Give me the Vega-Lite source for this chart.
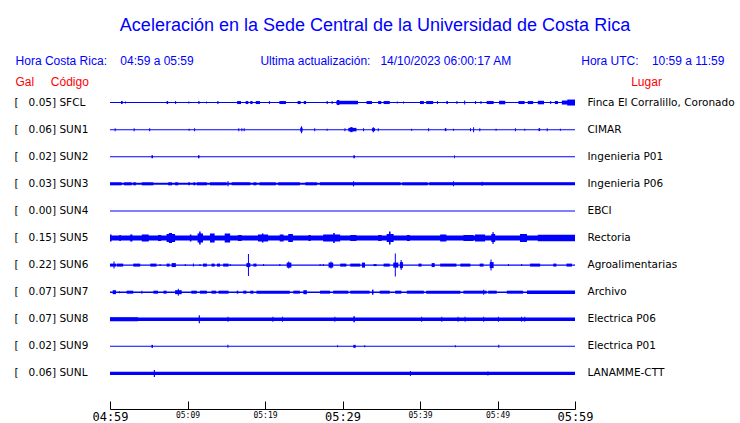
{
  "$schema": "https://vega.github.io/schema/vega-lite/v6.json",
  "autosize": {"type": "none"},
  "padding": {"left": 110, "top": 89, "right": 165, "bottom": 36},
  "width": 465,
  "height": 298,
  "background": "white",
  "config": {"view": {"stroke": null}},
  "title": {
    "text": "Aceleración en la Sede Central de la Universidad de Costa Rica",
    "subtitle": "Hora Costa Rica:\u00a0\u00a0\u00a0\u00a004:59 a 05:59\u00a0\u00a0\u00a0\u00a0\u00a0\u00a0\u00a0\u00a0\u00a0\u00a0\u00a0\u00a0\u00a0\u00a0\u00a0\u00a0\u00a0\u00a0\u00a0\u00a0Ultima actualización:\u00a0\u00a0\u00a014/10/2023 06:00:17 AM\u00a0\u00a0\u00a0\u00a0\u00a0\u00a0\u00a0\u00a0\u00a0\u00a0\u00a0\u00a0\u00a0\u00a0\u00a0\u00a0\u00a0\u00a0\u00a0\u00a0\u00a0Hora UTC:\u00a0\u00a0\u00a0\u00a010:59 a 11:59\u00a0\u00a0\u00a0\u200b",
    "anchor": "middle",
    "frame": "group",
    "dx": 32.5,
    "font": "Liberation Sans",
    "fontSize": 18,
    "fontWeight": "normal",
    "color": "#0000ff",
    "subtitleFont": "Liberation Sans",
    "subtitleFontSize": 12,
    "subtitleColor": "#0000ff",
    "subtitlePadding": 21,
    "offset": 8
  },
  "datasets": {
    "base": [
      {"st": "SFCL", "t0": 0, "t1": 60, "amp": 1},
      {"st": "SUN1", "t0": 0, "t1": 60, "amp": 1},
      {"st": "SUN2", "t0": 0, "t1": 60, "amp": 1},
      {"st": "SUN3", "t0": 0, "t1": 60, "amp": 2},
      {"st": "SUN4", "t0": 0, "t1": 60, "amp": 1},
      {"st": "SUN5", "t0": 0, "t1": 60, "amp": 5},
      {"st": "SUN6", "t0": 0, "t1": 60, "amp": 1.2},
      {"st": "SUN7", "t0": 0, "t1": 60, "amp": 1.5},
      {"st": "SUN8", "t0": 0, "t1": 60, "amp": 3.5},
      {"st": "SUN9", "t0": 0, "t1": 60, "amp": 1},
      {"st": "SUNL", "t0": 0, "t1": 60, "amp": 3.3}
    ],
    "bursts": [
      {"st": "SFCL", "t0": 1.42, "t1": 1.64, "amp": 3},
      {"st": "SFCL", "t0": 1.94, "t1": 2.07, "amp": 2},
      {"st": "SFCL", "t0": 7.3, "t1": 7.5, "amp": 3},
      {"st": "SFCL", "t0": 8.4, "t1": 8.53, "amp": 3},
      {"st": "SFCL", "t0": 10.1, "t1": 10.23, "amp": 2},
      {"st": "SFCL", "t0": 11.4, "t1": 11.55, "amp": 3},
      {"st": "SFCL", "t0": 12.4, "t1": 12.5, "amp": 2},
      {"st": "SFCL", "t0": 13.85, "t1": 14.0, "amp": 3},
      {"st": "SFCL", "t0": 16.4, "t1": 16.9, "amp": 3},
      {"st": "SFCL", "t0": 17.5, "t1": 17.85, "amp": 3},
      {"st": "SFCL", "t0": 18.1, "t1": 18.4, "amp": 3},
      {"st": "SFCL", "t0": 18.8, "t1": 19.35, "amp": 3},
      {"st": "SFCL", "t0": 20.5, "t1": 20.63, "amp": 3},
      {"st": "SFCL", "t0": 21.85, "t1": 22.7, "amp": 3},
      {"st": "SFCL", "t0": 24.2, "t1": 24.6, "amp": 3},
      {"st": "SFCL", "t0": 25.0, "t1": 25.3, "amp": 3},
      {"st": "SFCL", "t0": 27.95, "t1": 28.1, "amp": 3},
      {"st": "SFCL", "t0": 28.6, "t1": 28.73, "amp": 3},
      {"st": "SFCL", "t0": 29.2, "t1": 32.0, "amp": 3.5},
      {"st": "SFCL", "t0": 29.3, "t1": 29.6, "amp": 5},
      {"st": "SFCL", "t0": 33.1, "t1": 33.8, "amp": 3},
      {"st": "SFCL", "t0": 34.6, "t1": 35.0, "amp": 3},
      {"st": "SFCL", "t0": 35.3, "t1": 36.1, "amp": 3},
      {"st": "SFCL", "t0": 37.0, "t1": 37.13, "amp": 2},
      {"st": "SFCL", "t0": 37.8, "t1": 37.93, "amp": 2},
      {"st": "SFCL", "t0": 40.0, "t1": 40.5, "amp": 3},
      {"st": "SFCL", "t0": 40.8, "t1": 41.7, "amp": 3},
      {"st": "SFCL", "t0": 42.2, "t1": 42.33, "amp": 3},
      {"st": "SFCL", "t0": 43.4, "t1": 43.6, "amp": 3},
      {"st": "SFCL", "t0": 44.7, "t1": 44.83, "amp": 3},
      {"st": "SFCL", "t0": 45.7, "t1": 45.83, "amp": 4},
      {"st": "SFCL", "t0": 47.1, "t1": 47.23, "amp": 3},
      {"st": "SFCL", "t0": 47.8, "t1": 47.93, "amp": 3},
      {"st": "SFCL", "t0": 48.6, "t1": 49.5, "amp": 3},
      {"st": "SFCL", "t0": 50.2, "t1": 51.0, "amp": 3.5},
      {"st": "SFCL", "t0": 52.7, "t1": 53.5, "amp": 3},
      {"st": "SFCL", "t0": 53.9, "t1": 54.6, "amp": 3},
      {"st": "SFCL", "t0": 55.2, "t1": 56.0, "amp": 3.5},
      {"st": "SFCL", "t0": 56.8, "t1": 56.93, "amp": 3},
      {"st": "SFCL", "t0": 57.4, "t1": 57.8, "amp": 3},
      {"st": "SFCL", "t0": 58.3, "t1": 60, "amp": 4},
      {"st": "SFCL", "t0": 59.0, "t1": 60, "amp": 6},

      {"st": "SUN1", "t0": 0.6, "t1": 0.73, "amp": 3},
      {"st": "SUN1", "t0": 3.05, "t1": 3.18, "amp": 3},
      {"st": "SUN1", "t0": 5.05, "t1": 5.18, "amp": 3},
      {"st": "SUN1", "t0": 10.15, "t1": 10.28, "amp": 2},
      {"st": "SUN1", "t0": 10.85, "t1": 10.98, "amp": 3},
      {"st": "SUN1", "t0": 16.55, "t1": 16.68, "amp": 3},
      {"st": "SUN1", "t0": 16.95, "t1": 17.08, "amp": 3},
      {"st": "SUN1", "t0": 17.25, "t1": 17.38, "amp": 3},
      {"st": "SUN1", "t0": 24.55, "t1": 24.85, "amp": 4},
      {"st": "SUN1", "t0": 24.65, "t1": 24.78, "amp": 7},
      {"st": "SUN1", "t0": 26.35, "t1": 26.48, "amp": 3},
      {"st": "SUN1", "t0": 27.95, "t1": 28.08, "amp": 2},
      {"st": "SUN1", "t0": 30.25, "t1": 30.38, "amp": 3},
      {"st": "SUN1", "t0": 30.75, "t1": 31.8, "amp": 3.5},
      {"st": "SUN1", "t0": 31.0, "t1": 31.3, "amp": 5},
      {"st": "SUN1", "t0": 32.65, "t1": 32.78, "amp": 3},
      {"st": "SUN1", "t0": 33.8, "t1": 34.2, "amp": 3},
      {"st": "SUN1", "t0": 33.9, "t1": 34.05, "amp": 5},
      {"st": "SUN1", "t0": 34.55, "t1": 34.68, "amp": 3},
      {"st": "SUN1", "t0": 38.85, "t1": 38.98, "amp": 2},
      {"st": "SUN1", "t0": 41.05, "t1": 41.18, "amp": 3},
      {"st": "SUN1", "t0": 43.2, "t1": 43.4, "amp": 3},
      {"st": "SUN1", "t0": 44.25, "t1": 44.38, "amp": 2},
      {"st": "SUN1", "t0": 46.45, "t1": 46.58, "amp": 3},
      {"st": "SUN1", "t0": 46.85, "t1": 46.98, "amp": 5},
      {"st": "SUN1", "t0": 47.65, "t1": 47.78, "amp": 3},
      {"st": "SUN1", "t0": 49.75, "t1": 49.88, "amp": 2},
      {"st": "SUN1", "t0": 52.25, "t1": 52.38, "amp": 3},
      {"st": "SUN1", "t0": 53.45, "t1": 53.58, "amp": 2},
      {"st": "SUN1", "t0": 55.3, "t1": 55.5, "amp": 3},
      {"st": "SUN1", "t0": 56.35, "t1": 56.48, "amp": 3},
      {"st": "SUN1", "t0": 58.05, "t1": 58.18, "amp": 2},

      {"st": "SUN2", "t0": 5.35, "t1": 5.55, "amp": 3},
      {"st": "SUN2", "t0": 11.35, "t1": 11.55, "amp": 3},
      {"st": "SUN2", "t0": 31.4, "t1": 31.6, "amp": 3},
      {"st": "SUN2", "t0": 44.4, "t1": 44.5, "amp": 3},

      {"st": "SUN3", "t0": 0.0, "t1": 1.5, "amp": 3},
      {"st": "SUN3", "t0": 1.8, "t1": 2.8, "amp": 3},
      {"st": "SUN3", "t0": 3.0, "t1": 3.35, "amp": 3},
      {"st": "SUN3", "t0": 4.1, "t1": 5.6, "amp": 3},
      {"st": "SUN3", "t0": 7.5, "t1": 8.0, "amp": 3},
      {"st": "SUN3", "t0": 8.4, "t1": 8.8, "amp": 3},
      {"st": "SUN3", "t0": 10.1, "t1": 10.3, "amp": 3},
      {"st": "SUN3", "t0": 10.75, "t1": 11.0, "amp": 3},
      {"st": "SUN3", "t0": 11.2, "t1": 12.5, "amp": 3},
      {"st": "SUN3", "t0": 12.9, "t1": 15.05, "amp": 3},
      {"st": "SUN3", "t0": 15.15, "t1": 15.3, "amp": 5},
      {"st": "SUN3", "t0": 15.7, "t1": 18.1, "amp": 3},
      {"st": "SUN3", "t0": 18.5, "t1": 18.9, "amp": 3},
      {"st": "SUN3", "t0": 19.3, "t1": 21.4, "amp": 3},
      {"st": "SUN3", "t0": 21.7, "t1": 24.5, "amp": 3},
      {"st": "SUN3", "t0": 25.2, "t1": 26.7, "amp": 3},
      {"st": "SUN3", "t0": 27.1, "t1": 37.5, "amp": 3},
      {"st": "SUN3", "t0": 31.35, "t1": 31.5, "amp": 5},
      {"st": "SUN3", "t0": 37.7, "t1": 41.0, "amp": 3},
      {"st": "SUN3", "t0": 41.2, "t1": 60, "amp": 3},
      {"st": "SUN3", "t0": 44.25, "t1": 44.38, "amp": 5},
      {"st": "SUN3", "t0": 47.95, "t1": 48.08, "amp": 4},

      {"st": "SUN5", "t0": 0.0, "t1": 0.2, "amp": 7},
      {"st": "SUN5", "t0": 1.2, "t1": 1.4, "amp": 6},
      {"st": "SUN5", "t0": 2.6, "t1": 2.9, "amp": 7},
      {"st": "SUN5", "t0": 4.1, "t1": 5.0, "amp": 7},
      {"st": "SUN5", "t0": 6.2, "t1": 6.6, "amp": 6},
      {"st": "SUN5", "t0": 7.3, "t1": 8.4, "amp": 8},
      {"st": "SUN5", "t0": 7.6, "t1": 8.0, "amp": 10},
      {"st": "SUN5", "t0": 10.3, "t1": 10.5, "amp": 7},
      {"st": "SUN5", "t0": 11.3, "t1": 12.0, "amp": 9},
      {"st": "SUN5", "t0": 11.5, "t1": 11.7, "amp": 13},
      {"st": "SUN5", "t0": 12.9, "t1": 13.5, "amp": 9},
      {"st": "SUN5", "t0": 14.8, "t1": 15.5, "amp": 9},
      {"st": "SUN5", "t0": 16.5, "t1": 17.0, "amp": 6},
      {"st": "SUN5", "t0": 19.1, "t1": 20.4, "amp": 7},
      {"st": "SUN5", "t0": 19.6, "t1": 19.8, "amp": 9},
      {"st": "SUN5", "t0": 21.9, "t1": 22.4, "amp": 7},
      {"st": "SUN5", "t0": 23.0, "t1": 23.6, "amp": 8},
      {"st": "SUN5", "t0": 25.6, "t1": 25.9, "amp": 6},
      {"st": "SUN5", "t0": 27.5, "t1": 29.7, "amp": 7},
      {"st": "SUN5", "t0": 28.8, "t1": 29.0, "amp": 10},
      {"st": "SUN5", "t0": 31.0, "t1": 31.8, "amp": 6},
      {"st": "SUN5", "t0": 34.6, "t1": 35.05, "amp": 6},
      {"st": "SUN5", "t0": 35.7, "t1": 36.6, "amp": 8},
      {"st": "SUN5", "t0": 36.0, "t1": 36.2, "amp": 13},
      {"st": "SUN5", "t0": 38.3, "t1": 38.7, "amp": 6},
      {"st": "SUN5", "t0": 42.6, "t1": 43.4, "amp": 7},
      {"st": "SUN5", "t0": 45.6, "t1": 46.9, "amp": 6},
      {"st": "SUN5", "t0": 47.1, "t1": 48.4, "amp": 7},
      {"st": "SUN5", "t0": 49.2, "t1": 49.7, "amp": 8},
      {"st": "SUN5", "t0": 49.35, "t1": 49.5, "amp": 12},
      {"st": "SUN5", "t0": 52.9, "t1": 53.8, "amp": 8},
      {"st": "SUN5", "t0": 55.2, "t1": 60, "amp": 6.5},

      {"st": "SUN6", "t0": 0.0, "t1": 0.77, "amp": 3},
      {"st": "SUN6", "t0": 0.45, "t1": 0.58, "amp": 7},
      {"st": "SUN6", "t0": 0.86, "t1": 1.7, "amp": 3},
      {"st": "SUN6", "t0": 3.0, "t1": 3.9, "amp": 3},
      {"st": "SUN6", "t0": 5.2, "t1": 6.0, "amp": 3},
      {"st": "SUN6", "t0": 6.4, "t1": 6.53, "amp": 2},
      {"st": "SUN6", "t0": 7.3, "t1": 7.7, "amp": 3},
      {"st": "SUN6", "t0": 7.95, "t1": 8.5, "amp": 4},
      {"st": "SUN6", "t0": 9.65, "t1": 9.78, "amp": 2},
      {"st": "SUN6", "t0": 10.7, "t1": 10.83, "amp": 3},
      {"st": "SUN6", "t0": 11.55, "t1": 11.68, "amp": 2},
      {"st": "SUN6", "t0": 12.0, "t1": 12.5, "amp": 3},
      {"st": "SUN6", "t0": 13.1, "t1": 13.5, "amp": 3},
      {"st": "SUN6", "t0": 13.8, "t1": 14.2, "amp": 3},
      {"st": "SUN6", "t0": 14.6, "t1": 15.3, "amp": 3},
      {"st": "SUN6", "t0": 15.45, "t1": 15.58, "amp": 2},
      {"st": "SUN6", "t0": 17.6, "t1": 18.1, "amp": 4},
      {"st": "SUN6", "t0": 17.8, "t1": 17.93, "amp": 22},
      {"st": "SUN6", "t0": 18.5, "t1": 18.9, "amp": 3},
      {"st": "SUN6", "t0": 19.75, "t1": 19.88, "amp": 2},
      {"st": "SUN6", "t0": 21.85, "t1": 21.98, "amp": 2},
      {"st": "SUN6", "t0": 22.8, "t1": 23.4, "amp": 5},
      {"st": "SUN6", "t0": 23.0, "t1": 23.13, "amp": 7},
      {"st": "SUN6", "t0": 27.05, "t1": 27.18, "amp": 2},
      {"st": "SUN6", "t0": 27.45, "t1": 27.58, "amp": 2},
      {"st": "SUN6", "t0": 28.2, "t1": 28.8, "amp": 5},
      {"st": "SUN6", "t0": 28.45, "t1": 28.58, "amp": 7},
      {"st": "SUN6", "t0": 29.7, "t1": 30.5, "amp": 3},
      {"st": "SUN6", "t0": 31.0, "t1": 32.3, "amp": 3},
      {"st": "SUN6", "t0": 32.5, "t1": 32.9, "amp": 5},
      {"st": "SUN6", "t0": 34.0, "t1": 34.4, "amp": 2},
      {"st": "SUN6", "t0": 35.3, "t1": 36.1, "amp": 3},
      {"st": "SUN6", "t0": 36.55, "t1": 37.2, "amp": 5},
      {"st": "SUN6", "t0": 36.75, "t1": 36.88, "amp": 23},
      {"st": "SUN6", "t0": 37.4, "t1": 37.8, "amp": 6},
      {"st": "SUN6", "t0": 37.5, "t1": 37.63, "amp": 10},
      {"st": "SUN6", "t0": 39.8, "t1": 40.2, "amp": 3},
      {"st": "SUN6", "t0": 41.5, "t1": 41.9, "amp": 4},
      {"st": "SUN6", "t0": 42.6, "t1": 44.7, "amp": 3},
      {"st": "SUN6", "t0": 45.2, "t1": 46.5, "amp": 3},
      {"st": "SUN6", "t0": 47.7, "t1": 48.2, "amp": 3},
      {"st": "SUN6", "t0": 49.0, "t1": 49.5, "amp": 6},
      {"st": "SUN6", "t0": 49.1, "t1": 49.23, "amp": 11},
      {"st": "SUN6", "t0": 51.35, "t1": 51.48, "amp": 2},
      {"st": "SUN6", "t0": 53.05, "t1": 53.18, "amp": 2},
      {"st": "SUN6", "t0": 54.2, "t1": 55.5, "amp": 3},
      {"st": "SUN6", "t0": 57.2, "t1": 57.6, "amp": 3},
      {"st": "SUN6", "t0": 58.9, "t1": 59.6, "amp": 3},

      {"st": "SUN7", "t0": 0.35, "t1": 0.77, "amp": 4},
      {"st": "SUN7", "t0": 1.15, "t1": 1.28, "amp": 2},
      {"st": "SUN7", "t0": 2.15, "t1": 3.0, "amp": 3},
      {"st": "SUN7", "t0": 4.05, "t1": 4.18, "amp": 3},
      {"st": "SUN7", "t0": 5.6, "t1": 6.2, "amp": 3},
      {"st": "SUN7", "t0": 6.9, "t1": 7.3, "amp": 3},
      {"st": "SUN7", "t0": 8.4, "t1": 9.25, "amp": 4},
      {"st": "SUN7", "t0": 8.75, "t1": 8.88, "amp": 7},
      {"st": "SUN7", "t0": 10.5, "t1": 11.2, "amp": 3},
      {"st": "SUN7", "t0": 11.6, "t1": 12.5, "amp": 3},
      {"st": "SUN7", "t0": 13.1, "t1": 13.7, "amp": 3},
      {"st": "SUN7", "t0": 14.0, "t1": 15.3, "amp": 3},
      {"st": "SUN7", "t0": 16.35, "t1": 16.55, "amp": 3},
      {"st": "SUN7", "t0": 17.2, "t1": 17.6, "amp": 3},
      {"st": "SUN7", "t0": 18.1, "t1": 18.5, "amp": 3},
      {"st": "SUN7", "t0": 18.9, "t1": 23.2, "amp": 3},
      {"st": "SUN7", "t0": 23.65, "t1": 24.5, "amp": 3},
      {"st": "SUN7", "t0": 24.95, "t1": 25.4, "amp": 4},
      {"st": "SUN7", "t0": 27.1, "t1": 28.4, "amp": 3},
      {"st": "SUN7", "t0": 28.8, "t1": 30.75, "amp": 3},
      {"st": "SUN7", "t0": 31.0, "t1": 33.5, "amp": 3},
      {"st": "SUN7", "t0": 33.8, "t1": 34.0, "amp": 5},
      {"st": "SUN7", "t0": 34.8, "t1": 36.1, "amp": 3},
      {"st": "SUN7", "t0": 36.8, "t1": 37.6, "amp": 3},
      {"st": "SUN7", "t0": 38.3, "t1": 40.5, "amp": 3},
      {"st": "SUN7", "t0": 40.8, "t1": 45.2, "amp": 3},
      {"st": "SUN7", "t0": 45.6, "t1": 48.6, "amp": 3},
      {"st": "SUN7", "t0": 48.15, "t1": 48.28, "amp": 5},
      {"st": "SUN7", "t0": 48.8, "t1": 49.9, "amp": 3},
      {"st": "SUN7", "t0": 51.2, "t1": 53.3, "amp": 3},
      {"st": "SUN7", "t0": 53.8, "t1": 60, "amp": 3.5},

      {"st": "SUN8", "t0": 0.0, "t1": 3.6, "amp": 4},
      {"st": "SUN8", "t0": 11.45, "t1": 11.6, "amp": 8},
      {"st": "SUN8", "t0": 15.15, "t1": 15.28, "amp": 5},
      {"st": "SUN8", "t0": 20.95, "t1": 21.08, "amp": 5},
      {"st": "SUN8", "t0": 22.2, "t1": 22.33, "amp": 5},
      {"st": "SUN8", "t0": 28.95, "t1": 29.08, "amp": 5},
      {"st": "SUN8", "t0": 31.4, "t1": 31.6, "amp": 6},
      {"st": "SUN8", "t0": 40.15, "t1": 40.28, "amp": 5},
      {"st": "SUN8", "t0": 42.75, "t1": 42.88, "amp": 5},
      {"st": "SUN8", "t0": 44.85, "t1": 44.98, "amp": 5},
      {"st": "SUN8", "t0": 45.75, "t1": 45.88, "amp": 5},
      {"st": "SUN8", "t0": 48.15, "t1": 48.28, "amp": 5},
      {"st": "SUN8", "t0": 50.05, "t1": 50.18, "amp": 5},
      {"st": "SUN8", "t0": 53.05, "t1": 53.18, "amp": 5},
      {"st": "SUN8", "t0": 53.45, "t1": 53.58, "amp": 5},

      {"st": "SUN9", "t0": 5.35, "t1": 5.55, "amp": 3},
      {"st": "SUN9", "t0": 15.15, "t1": 15.28, "amp": 3},
      {"st": "SUN9", "t0": 29.3, "t1": 29.43, "amp": 2},
      {"st": "SUN9", "t0": 31.4, "t1": 31.7, "amp": 3},
      {"st": "SUN9", "t0": 32.8, "t1": 32.93, "amp": 2},
      {"st": "SUN9", "t0": 44.5, "t1": 44.63, "amp": 2},
      {"st": "SUN9", "t0": 50.1, "t1": 50.23, "amp": 3},

      {"st": "SUNL", "t0": 5.65, "t1": 5.8, "amp": 7},
      {"st": "SUNL", "t0": 38.7, "t1": 38.83, "amp": 5},
      {"st": "SUNL", "t0": 48.7, "t1": 48.83, "amp": 4}
    ]
  },
  "layer": [
    {
      "data": {"name": "base"},
      "mark": {"type": "bar", "color": "#0000ff"},
      "encoding": {
        "x": {
          "field": "t0", "type": "quantitative",
          "scale": {"domain": [0, 60], "nice": false, "zero": false},
          "axis": {
            "orient": "bottom", "offset": 22, "title": null, "grid": false,
            "values": [0, 5, 10, 15, 20, 25, 30, 35, 40, 45, 50, 55, 60],
            "domain": true, "domainColor": "black", "domainWidth": 1, "domainOpacity": 1,
            "ticks": true, "tickColor": "black", "tickWidth": 1, "tickSize": -8,
            "labelPadding": 10, "labelBaseline": "top",
            "labelFont": "DejaVu Sans Mono", "labelColor": "black",
            "labelFontSize": {"condition": {"test": "datum.value % 30 == 0", "value": 12}, "value": 8},
            "labelOverlap": false, "labelFlush": false,
            "labelExpr": "datum.value % 10 != 0 ? '' : ((floor((299 + datum.value) / 60) < 10 ? '0' : '') + floor((299 + datum.value) / 60) + ':' + (((299 + datum.value) % 60) < 10 ? '0' : '') + ((299 + datum.value) % 60))"
          }
        },
        "x2": {"field": "t1"},
        "y": {
          "field": "st", "type": "nominal",
          "scale": {"domain": ["SFCL", "SUN1", "SUN2", "SUN3", "SUN4", "SUN5", "SUN6", "SUN7", "SUN8", "SUN9", "SUNL"], "paddingInner": 0, "paddingOuter": 0},
          "axis": {
            "orient": "left", "ticks": false, "tickSize": 0, "domain": false, "grid": false,
            "labelAlign": "left", "labelPadding": 96, "labelBaseline": "middle",
            "labelFont": "DejaVu Sans", "labelFontSize": 10.5, "labelColor": "black",
            "labelExpr": "['[\u00a0\u00a0\u00a00.05]\u00a0SFCL','[\u00a0\u00a0\u00a00.06]\u00a0SUN1','[\u00a0\u00a0\u00a00.02]\u00a0SUN2','[\u00a0\u00a0\u00a00.03]\u00a0SUN3','[\u00a0\u00a0\u00a00.00]\u00a0SUN4','[\u00a0\u00a0\u00a00.15]\u00a0SUN5','[\u00a0\u00a0\u00a00.22]\u00a0SUN6','[\u00a0\u00a0\u00a00.07]\u00a0SUN7','[\u00a0\u00a0\u00a00.07]\u00a0SUN8','[\u00a0\u00a0\u00a00.02]\u00a0SUN9','[\u00a0\u00a0\u00a00.06]\u00a0SUNL'][indexof(['SFCL','SUN1','SUN2','SUN3','SUN4','SUN5','SUN6','SUN7','SUN8','SUN9','SUNL'], datum.value)]",
            "title": "Gal\u00a0\u00a0\u00a0\u00a0\u00a0Código",
            "titleAngle": 0, "titleAlign": "left", "titleBaseline": "alphabetic",
            "titleX": -95, "titleY": -4,
            "titleFont": "Liberation Sans", "titleFontSize": 12, "titleFontWeight": "normal", "titleColor": "#ff0000"
          }
        },
        "size": {"field": "amp", "type": "quantitative", "scale": {"type": "linear", "domain": [0, 30], "range": [0, 30]}, "legend": null}
      }
    },
    {
      "data": {"name": "bursts"},
      "mark": {"type": "bar", "color": "#0000ff"},
      "encoding": {
        "x": {"field": "t0", "type": "quantitative"},
        "x2": {"field": "t1"},
        "y": {
          "field": "st", "type": "nominal",
          "axis": {
            "orient": "right", "ticks": false, "tickSize": 0, "domain": false, "grid": false,
            "labelAlign": "left", "labelPadding": 12, "labelBaseline": "middle",
            "labelFont": "DejaVu Sans", "labelFontSize": 10.5, "labelColor": "black",
            "labelExpr": "['Finca El Corralillo, Coronado','CIMAR','Ingenieria P01','Ingenieria P06','EBCI','Rectoria','Agroalimentarias','Archivo','Electrica P06','Electrica P01','LANAMME-CTT'][indexof(['SFCL','SUN1','SUN2','SUN3','SUN4','SUN5','SUN6','SUN7','SUN8','SUN9','SUNL'], datum.value)]",
            "title": "Lugar",
            "titleAngle": 0, "titleAlign": "left", "titleBaseline": "alphabetic",
            "titleX": 55.7, "titleY": -4,
            "titleFont": "Liberation Sans", "titleFontSize": 12, "titleFontWeight": "normal", "titleColor": "#ff0000"
          }
        },
        "size": {"field": "amp", "type": "quantitative", "legend": null}
      }
    }
  ],
  "resolve": {"axis": {"y": "independent"}}
}
